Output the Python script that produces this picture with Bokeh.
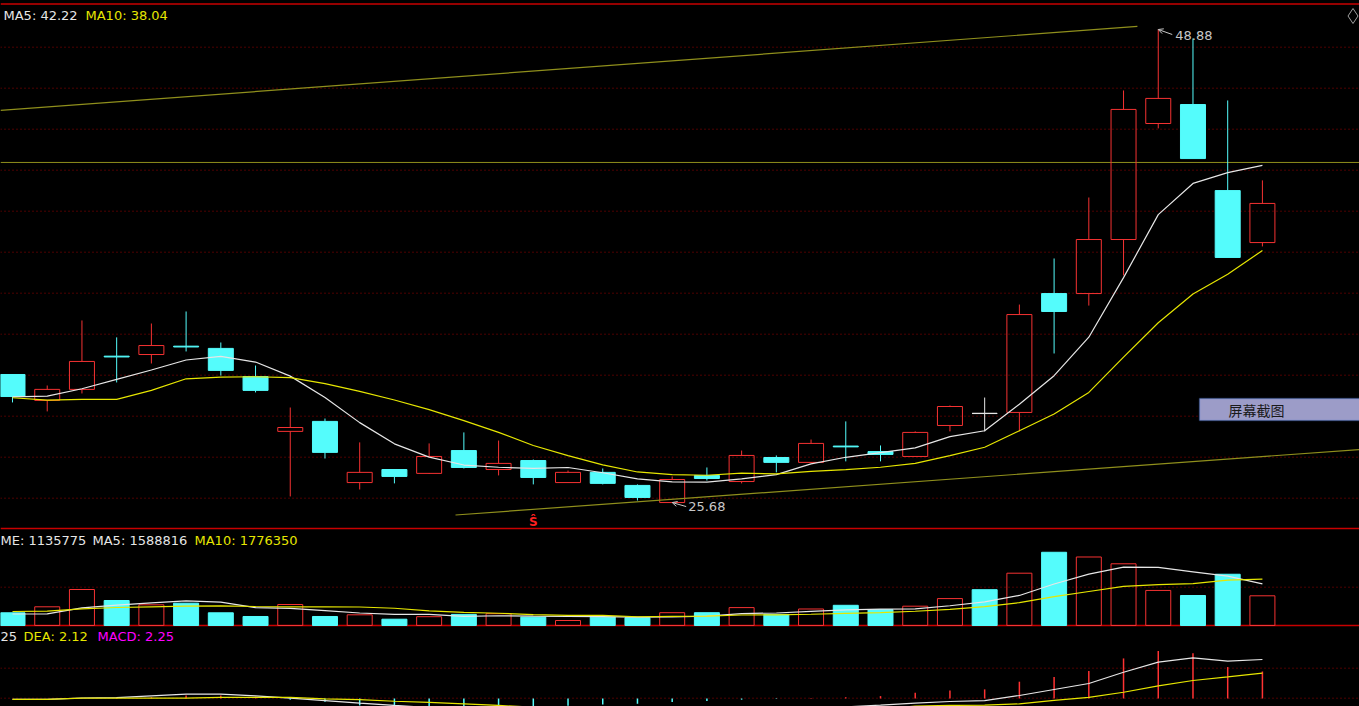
import numpy as np
from bokeh.plotting import figure
from bokeh.models import (Range1d, Span, Label, ColumnDataSource, Arrow, OpenHead,
                          BoxAnnotation)
from bokeh.embed import file_html
from bokeh.resources import INLINE

# ---------------- data ----------------
days = list(range(1, 38))
open_p = [31.96, 30.69, 31.23, 32.86, 32.94, 33.35, 33.24, 31.86, 29.17, 29.66,
          26.66, 27.30, 27.11, 28.23, 27.30, 27.74, 26.66, 27.16, 26.52, 25.68,
          27.01, 26.71, 27.89, 27.65, 28.45, 28.18, 27.94, 29.46, 30.05, 30.10,
          35.93, 35.93, 38.58, 44.27, 45.20, 40.98, 38.43]
high_p = [31.98, 31.42, 34.61, 33.78, 34.46, 35.05, 33.53, 32.40, 30.34, 29.80,
          28.63, 27.32, 28.58, 29.12, 28.72, 27.79, 27.25, 27.35, 26.57, 26.96,
          27.40, 28.23, 27.99, 28.77, 29.66, 28.48, 29.17, 30.44, 30.83, 35.39,
          37.65, 40.64, 45.89, 48.88, 48.44, 45.40, 41.48]
low_p = [30.59, 30.15, 31.03, 31.57, 32.50, 33.09, 31.91, 31.08, 25.98, 27.84,
         26.32, 26.62, 27.08, 27.35, 27.01, 26.57, 26.66, 26.57, 25.78, 25.68,
         26.76, 26.62, 27.16, 27.62, 27.70, 27.70, 27.94, 29.17, 29.17, 29.17,
         32.99, 35.34, 36.82, 44.03, 42.55, 37.70, 38.24]
close_p = [30.88, 31.23, 32.60, 32.82, 33.38, 33.31, 32.16, 31.18, 29.36, 28.14,
           27.16, 26.96, 27.94, 27.40, 27.60, 26.91, 27.16, 26.62, 25.93, 26.81,
           26.86, 27.99, 27.65, 28.58, 28.41, 28.04, 29.12, 30.39, 30.05, 34.90,
           35.05, 38.58, 44.96, 45.50, 42.55, 37.70, 40.35]
ma5_p = [30.86, 30.90, 31.26, 31.72, 32.18, 32.67, 32.85, 32.57, 31.88, 30.83,
         29.60, 28.56, 27.91, 27.52, 27.41, 27.36, 27.40, 27.14, 26.84, 26.69,
         26.68, 26.84, 27.05, 27.58, 27.90, 28.13, 28.36, 28.91, 29.20, 30.50,
         31.90, 33.79, 36.71, 39.80, 41.33, 41.86, 42.22]
ma10_p = [30.82, 30.70, 30.74, 30.74, 31.18, 31.75, 31.83, 31.85, 31.81, 31.51,
          31.13, 30.71, 30.24, 29.70, 29.12, 28.48, 27.98, 27.53, 27.18, 27.05,
          27.02, 27.12, 27.09, 27.21, 27.29, 27.41, 27.60, 27.98, 28.39, 29.20,
          30.02, 31.08, 32.81, 34.50, 35.91, 36.88, 38.04]
volume = [486000, 715000, 1376600, 956000, 791600, 852800, 485600, 344200, 803000, 344200,
          409200, 240900, 336500, 424500, 451200, 321200, 191200, 321200, 298300, 489500,
          489500, 684500, 424500, 631000, 772400, 608000, 738000, 1029425, 1370000, 2000000,
          2800000, 2620000, 2360000, 1341100, 1147200, 1960000, 1135775]
vol_ma5 = [440000, 447000, 677000, 780000, 865040, 938400, 892520, 686040, 655440, 565960,
           477240, 428300, 426760, 351060, 372460, 354860, 344920, 341860, 316620, 324280,
           357940, 456600, 477260, 543800, 600380, 624080, 634780, 755765, 903565, 1149085,
           1587485, 1963885, 2230000, 2224220, 2053660, 1885660, 1588816]
vol_ma10 = [535000, 547000, 638000, 688000, 715000, 738000, 753000, 727000, 715000, 715500,
            707820, 660410, 556400, 503250, 469210, 416050, 386610, 384310, 333840, 348370,
            356400, 400760, 409560, 430210, 462330, 491010, 545690, 616513, 723683, 874733,
            1105783, 1299333, 1492883, 1563893, 1601373, 1736573, 1776350]
dif = [-0.08, -0.08, 0.04, 0.08, 0.22, 0.36, 0.36, 0.22, 0.03, -0.17,
       -0.39, -0.58, -0.75, -0.90, -1.00, -1.10, -1.15, -1.20, -1.25, -1.22,
       -1.15, -1.05, -0.95, -0.82, -0.70, -0.55, -0.39, -0.25, -0.17, 0.25,
       0.75, 1.25, 2.19, 3.03, 3.39, 3.11, 3.25]
dea = [-0.08, -0.08, 0.03, 0.03, 0.03, 0.03, 0.10, 0.10, 0.10, -0.03,
       -0.10, -0.23, -0.33, -0.44, -0.58, -0.72, -0.85, -0.95, -1.03, -1.07,
       -1.09, -1.08, -1.05, -1.00, -0.94, -0.86, -0.64, -0.58, -0.55, -0.45,
       -0.15, 0.10, 0.52, 1.05, 1.50, 1.80, 2.12]
macd = [0.00, 0.00, 0.02, 0.08, 0.10, 0.25, 0.25, 0.15, -0.10, -0.28,
        -0.58, -0.70, -0.84, -0.92, -0.84, -0.76, -0.60, -0.50, -0.44, -0.30,
        -0.20, -0.10, -0.04, 0.04, 0.10, 0.20, 0.48, 0.66, 0.76, 1.40,
        1.80, 2.30, 3.34, 3.96, 3.78, 2.62, 2.25]
# drawn objects (index, price)
trend_up_x = [0.654, 33.40]
trend_up_y = [44.91, 49.03]
trend_lo_x = [13.76, 39.80]
trend_lo_y = [25.07, 28.28]
hline_price = 42.36
signal_day = [16]
signal_text = ["Ŝ"]

price_labels = ["MA5: 42.22", "MA10: 38.04"]
vol_labels = ["ME: 1135775", "MA5: 1588816", "MA10: 1776350"]
macd_labels = ["25", "DEA: 2.12", "MACD: 2.25"]

# ---------------- layout (pixel scale of the reference) ----------------
W, H = 1359, 706
X_PX = 34.72              # px per candle
Y_PX = 20.39              # px per price unit
Y_REF_PX, Y_REF_P = 29, 48.88
VOL_PX = 38240.0          # volume units per px
VOL_BASE = 625            # window y of volume zero
MACD_PX = 12.0            # px per MACD unit
MACD_BASE = 698           # window y of MACD zero


def sx(x):
    return 1 + (x - 12) / X_PX


def sy(y):
    return Y_REF_P - (y - Y_REF_PX) / Y_PX


RED = "#f53232"
CYAN = "#54fcfc"
WHITE = "#e6e6e6"
YELLOW = "#e6e600"
MAGENTA = "#ff00ff"
GRID = "#9a0000"
SEP = "#c80000"
OLIVE = "#8f8f1c"
FONT = "DejaVu Sans"

p = figure(width=W, height=H, x_range=Range1d(sx(0), sx(W)),
           y_range=Range1d(sy(H), sy(0)), output_backend="svg",
           toolbar_location=None, x_axis_type=None, y_axis_type=None,
           min_border=0, background_fill_color="black",
           border_fill_color="black", outline_line_color=None)
p.extra_y_ranges = {
    "vol": Range1d((VOL_BASE - H) * VOL_PX, VOL_BASE * VOL_PX),
    "macd": Range1d((MACD_BASE - H) / MACD_PX, MACD_BASE / MACD_PX),
}

try:
    from bokeh.models import GlobalInlineStyleSheet
    p.stylesheets = [GlobalInlineStyleSheet(css="html, body { background: #000000; }")]
except Exception:
    pass

# grid lines (under the marks)
for k in range(12):
    p.add_layout(Span(location=sy(46.7 + 41 * k), dimension="width", level="underlay",
                      line_color=GRID, line_dash="1 3", line_width=1))
for ys in (586.7, 667.7, 697.7):
    p.add_layout(Span(location=sy(ys), dimension="width", level="underlay",
                      line_color=GRID, line_dash="1 3", line_width=1))
for ys in (3.5, 528, 625):
    p.add_layout(Span(location=sy(ys), dimension="width", level="underlay",
                      line_color=SEP, line_width=1.5))
p.add_layout(Span(location=hline_price, dimension="width", level="underlay",
                  line_color=OLIVE, line_width=1))

# ---------------- candles ----------------
o = np.array(open_p); c = np.array(close_p)
h = np.array(high_p); l = np.array(low_p)
up = c > o
dn = c < o
eq = c == o
col = np.where(up, RED, np.where(dn, CYAN, WHITE))
top = np.maximum(o, c)
bot = np.minimum(o, c)
src = ColumnDataSource(dict(x=days, top=top, bot=bot, h=h, l=l, col=list(col),
                            fa=list(np.where(dn, 1.0, 0.0))))
p.segment(x0="x", y0="h", x1="x", y1="top", line_color="col", line_width=1, source=src)
p.segment(x0="x", y0="bot", x1="x", y1="l", line_color="col", line_width=1, source=src)
p.vbar(x="x", width=0.72, top="top", bottom="bot", fill_color="col", fill_alpha="fa",
       line_color="col", line_width=1, source=src)
dx = np.array(days)[eq]
p.segment(x0=list(dx - 0.36), y0=list(c[eq]), x1=list(dx + 0.36), y1=list(c[eq]),
          line_color=WHITE, line_width=1.2)

# drawn trend lines
p.line(trend_up_x, trend_up_y, line_color=OLIVE, line_width=1.2)
p.line(trend_lo_x, trend_lo_y, line_color=OLIVE, line_width=1.2)

# moving averages
p.line(days, ma5_p, line_color=WHITE, line_width=1.2)
p.line(days, ma10_p, line_color=YELLOW, line_width=1.2)

# ---------------- volume ----------------
vcol = np.where(up, RED, CYAN)
vsrc = ColumnDataSource(dict(x=days, v=volume, col=list(vcol),
                             fa=list(np.where(up, 0.0, 1.0))))
p.vbar(x="x", width=0.72, top="v", bottom=0, fill_color="col", fill_alpha="fa",
       line_color="col", line_width=1, source=vsrc, y_range_name="vol")
p.line(days, vol_ma5, line_color=WHITE, line_width=1.2, y_range_name="vol")
p.line(days, vol_ma10, line_color=YELLOW, line_width=1.2, y_range_name="vol")

# ---------------- MACD ----------------
mcol = ["#ff3232" if m > 0 else CYAN for m in macd]
p.segment(x0=days, y0=[0] * len(days), x1=days, y1=macd, line_color=mcol,
          line_width=1.5, y_range_name="macd")
p.line(days, dif, line_color=WHITE, line_width=1.2, y_range_name="macd")
p.line(days, dea, line_color=YELLOW, line_width=1.2, y_range_name="macd")

# ---------------- texts ----------------
def lab(x, y, t, color, align="left", size="13px", font=FONT, style="normal"):
    p.add_layout(Label(x=x, y=y, text=t, text_color=color, text_align=align,
                       text_baseline="middle", text_font_size=size,
                       text_font=font, text_font_style=style))

lab(sx(3), sy(14.5), price_labels[0], WHITE)
lab(sx(85), sy(14.5), price_labels[1], YELLOW)
lab(sx(0), sy(540), vol_labels[0], WHITE)
lab(sx(92), sy(540), vol_labels[1], WHITE)
lab(sx(194), sy(540), vol_labels[2], YELLOW)
lab(sx(0), sy(635.5), macd_labels[0], WHITE)
lab(sx(23), sy(635.5), macd_labels[1], YELLOW)
lab(sx(97), sy(635.5), macd_labels[2], MAGENTA)

# high / low marks
GRAY = "#c8c8c8"
hi = int(np.argmax(h)); lo = int(np.argmin(l))
hx, hy = days[hi], h[hi]
lx, ly = days[lo], l[lo]
p.add_layout(Arrow(end=OpenHead(size=5, line_color=GRAY, line_width=1),
                   x_start=hx + 14 / X_PX, y_start=hy - 5 / Y_PX,
                   x_end=hx, y_end=hy, line_color=GRAY, line_width=1))
lab(hx + 17 / X_PX, hy - 6 / Y_PX, f"{hy:.2f}", GRAY)
p.add_layout(Arrow(end=OpenHead(size=5, line_color=GRAY, line_width=1),
                   x_start=lx + 14 / X_PX, y_start=ly - 4 / Y_PX,
                   x_end=lx, y_end=ly, line_color=GRAY, line_width=1))
lab(lx + 16 / X_PX, ly - 4 / Y_PX, f"{ly:.2f}", GRAY)

# signal mark
for d, t in zip(signal_day, signal_text):
    lab(d, sy(521), t, "#ff2020", align="center", size="12px", style="bold")

# top-right diamond
p.scatter([sx(1352.5)], [sy(15.5)], marker="diamond", size=15,
          fill_alpha=0, line_color="#a0a0a0", line_width=1)

# screenshot button
p.add_layout(BoxAnnotation(left=sx(1199), right=sx(1362), top=sy(398), bottom=sy(420),
                           fill_color="#9c9cc8", fill_alpha=1,
                           line_color="#3d6fd6", line_width=1.5))
lab(sx(1228), sy(409), "屏幕截图", "#1a1a1a", size="14px", font="Noto Sans CJK SC")

open("out.html", "w").write(file_html(p, INLINE))
